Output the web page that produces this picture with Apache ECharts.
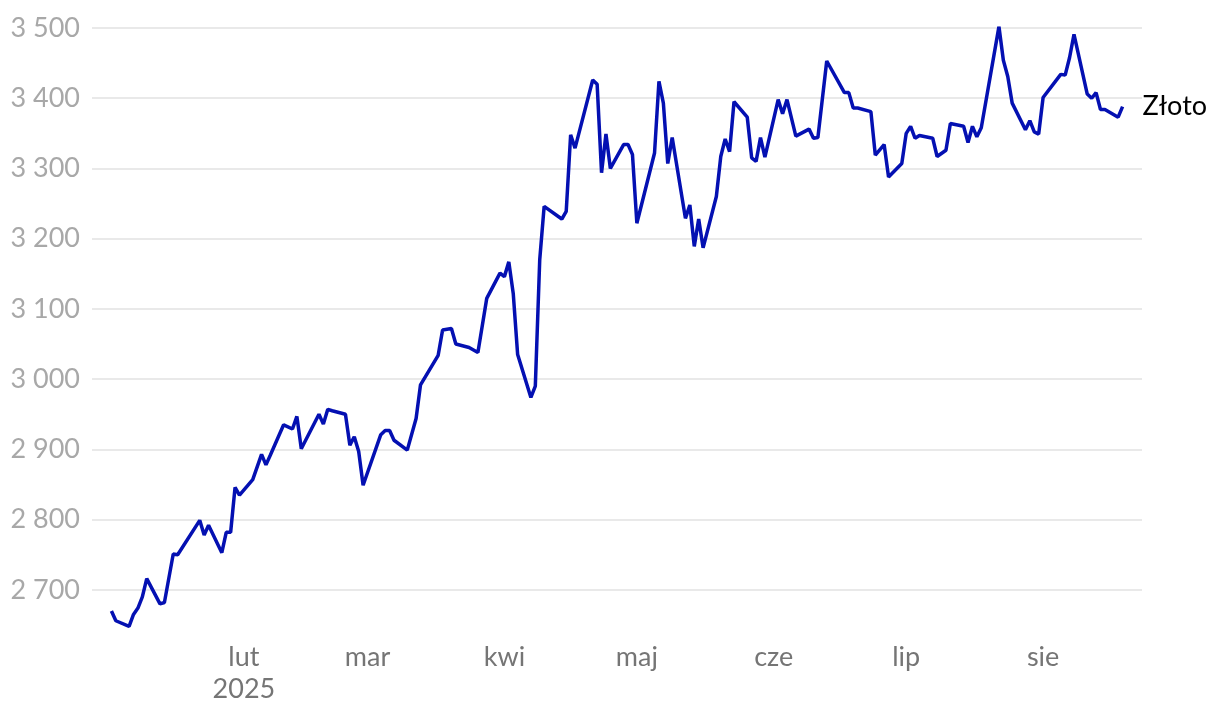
<!DOCTYPE html>
<html>
<head>
<meta charset="utf-8">
<style>
html,body{margin:0;padding:0;background:#fff;}
#chart{width:1220px;height:718px;}
</style>
<script src="https://cdn.jsdelivr.net/npm/echarts@6/dist/echarts.min.js"></script>
</head>
<body>
<div id="chart"></div>
<script>
const seriesName = 'Złoto';
const dates = [
'2025-01-02','2025-01-03','2025-01-06','2025-01-07','2025-01-08','2025-01-09','2025-01-10','2025-01-13','2025-01-14','2025-01-16',
'2025-01-17','2025-01-22','2025-01-23','2025-01-24','2025-01-27','2025-01-28','2025-01-29','2025-01-30','2025-01-31','2025-02-03',
'2025-02-05','2025-02-06','2025-02-07','2025-02-10','2025-02-12','2025-02-13','2025-02-14','2025-02-18','2025-02-19','2025-02-20',
'2025-02-21','2025-02-24','2025-02-25','2025-02-26','2025-02-27','2025-02-28','2025-03-04','2025-03-05','2025-03-06','2025-03-07',
'2025-03-10','2025-03-12','2025-03-13','2025-03-17','2025-03-18','2025-03-20','2025-03-21','2025-03-24','2025-03-26','2025-03-28',
'2025-03-31','2025-04-01','2025-04-02','2025-04-03','2025-04-04','2025-04-07','2025-04-08','2025-04-09','2025-04-10','2025-04-14',
'2025-04-15','2025-04-16','2025-04-17','2025-04-21','2025-04-22','2025-04-23','2025-04-24','2025-04-25','2025-04-28','2025-04-29',
'2025-04-30','2025-05-01','2025-05-05','2025-05-06','2025-05-07','2025-05-08','2025-05-09','2025-05-12','2025-05-13','2025-05-14',
'2025-05-15','2025-05-16','2025-05-19','2025-05-20','2025-05-21','2025-05-22','2025-05-23','2025-05-26','2025-05-27','2025-05-28',
'2025-05-29','2025-05-30','2025-06-02','2025-06-03','2025-06-04','2025-06-06','2025-06-09','2025-06-10','2025-06-11','2025-06-13',
'2025-06-17','2025-06-18','2025-06-19','2025-06-20','2025-06-23','2025-06-24','2025-06-26','2025-06-27','2025-06-30','2025-07-01',
'2025-07-02','2025-07-03','2025-07-04','2025-07-07','2025-07-08','2025-07-10','2025-07-11','2025-07-14','2025-07-15','2025-07-16',
'2025-07-17','2025-07-18','2025-07-22','2025-07-23','2025-07-24','2025-07-25','2025-07-28','2025-07-29','2025-07-30','2025-07-31',
'2025-08-01','2025-08-05','2025-08-06','2025-08-07','2025-08-08','2025-08-11','2025-08-12','2025-08-13','2025-08-14','2025-08-15',
'2025-08-18','2025-08-19'
];
const goldValues = [
2670,2656,2648,2665,2674,2690,2716,2680,2682,2751,
2750,2799,2778,2792,2753,2782,2782,2846,2835,2857,
2893,2878,2892,2935,2929,2947,2901,2950,2936,2957,
2955,2950,2906,2918,2897,2849,2921,2927,2927,2913,
2899,2944,2992,3034,3070,3072,3050,3045,3038,3115,
3151,3146,3167,3122,3035,2974,2990,3170,3246,3228,
3239,3348,3329,3426,3420,3294,3349,3300,3334,3334,
3320,3222,3322,3424,3393,3307,3344,3229,3248,3189,
3228,3187,3260,3317,3342,3324,3395,3373,3315,3310,
3344,3316,3398,3378,3398,3346,3356,3343,3344,3453,
3408,3408,3386,3386,3381,3319,3334,3288,3307,3350,
3360,3343,3347,3343,3317,3326,3364,3360,3337,3360,
3345,3358,3502,3454,3431,3393,3355,3368,3352,3349,
3401,3434,3433,3458,3491,3406,3400,3408,3384,3384,
3373,3388
];
const monthTickDates = ['2025-02-01','2025-03-01','2025-04-01','2025-05-01','2025-06-01','2025-07-01','2025-08-01'];
const monthTickLabels = ['lut\n2025','mar','kwi','maj','cze','lip','sie'];

function toTime(s){const p=s.split('-').map(Number);return Date.UTC(p[0],p[1]-1,p[2]);}
const DAY = 86400000;
const tickTimes = monthTickDates.map(toTime);
const seriesData = dates.map((d,i)=>[toTime(d), goldValues[i]]);

const chart = echarts.init(document.getElementById('chart'), null, {renderer:'canvas'});
chart.setOption({
  animation:false,
  backgroundColor:'#fff',
  grid:{left:92,right:78,top:28,bottom:86,containLabel:false},
  xAxis:{
    type:'value',
    min: toTime('2025-02-01') - 34.4*DAY,
    max: toTime('2025-08-01') + 22.4*DAY,
    axisLine:{show:false},
    axisTick:{show:false},
    splitLine:{show:false},
    axisLabel:{
      customValues: tickTimes,
      color:'#757575',
      fontFamily:'Lato',
      fontSize:27,
      lineHeight:32,
      margin:9,
      formatter:function(v){
        let best=0,bd=Infinity;
        tickTimes.forEach((t,i)=>{const d=Math.abs(t-v); if(d<bd){bd=d;best=i;}});
        return monthTickLabels[best];
      }
    }
  },
  yAxis:{
    type:'value',
    min:2640,
    max:3500,
    splitNumber:8,
    axisLine:{show:false},
    axisTick:{show:false},
    splitLine:{show:true,showMinLine:false,lineStyle:{color:'#e2e2e2',width:1.5}},
    axisLabel:{
      showMinLabel:false,
      color:'#a8a8a8',
      fontFamily:'Lato',
      fontSize:27,
      margin:12,
      formatter:function(v){return String(v).replace(/\B(?=(\d{3})+(?!\d))/g,' ');}
    }
  },
  series:[{
    name:seriesName,
    type:'line',
    data:seriesData,
    showSymbol:false,
    symbol:'none',
    lineStyle:{color:'#0410b2',width:3.5},
    itemStyle:{color:'#0410b2'},
    endLabel:{
      show:true,
      formatter:'{a}',
      color:'#000',
      fontFamily:'Lato',
      fontSize:27,
      distance:20
    }
  }]
});
</script>
</body>
</html>
